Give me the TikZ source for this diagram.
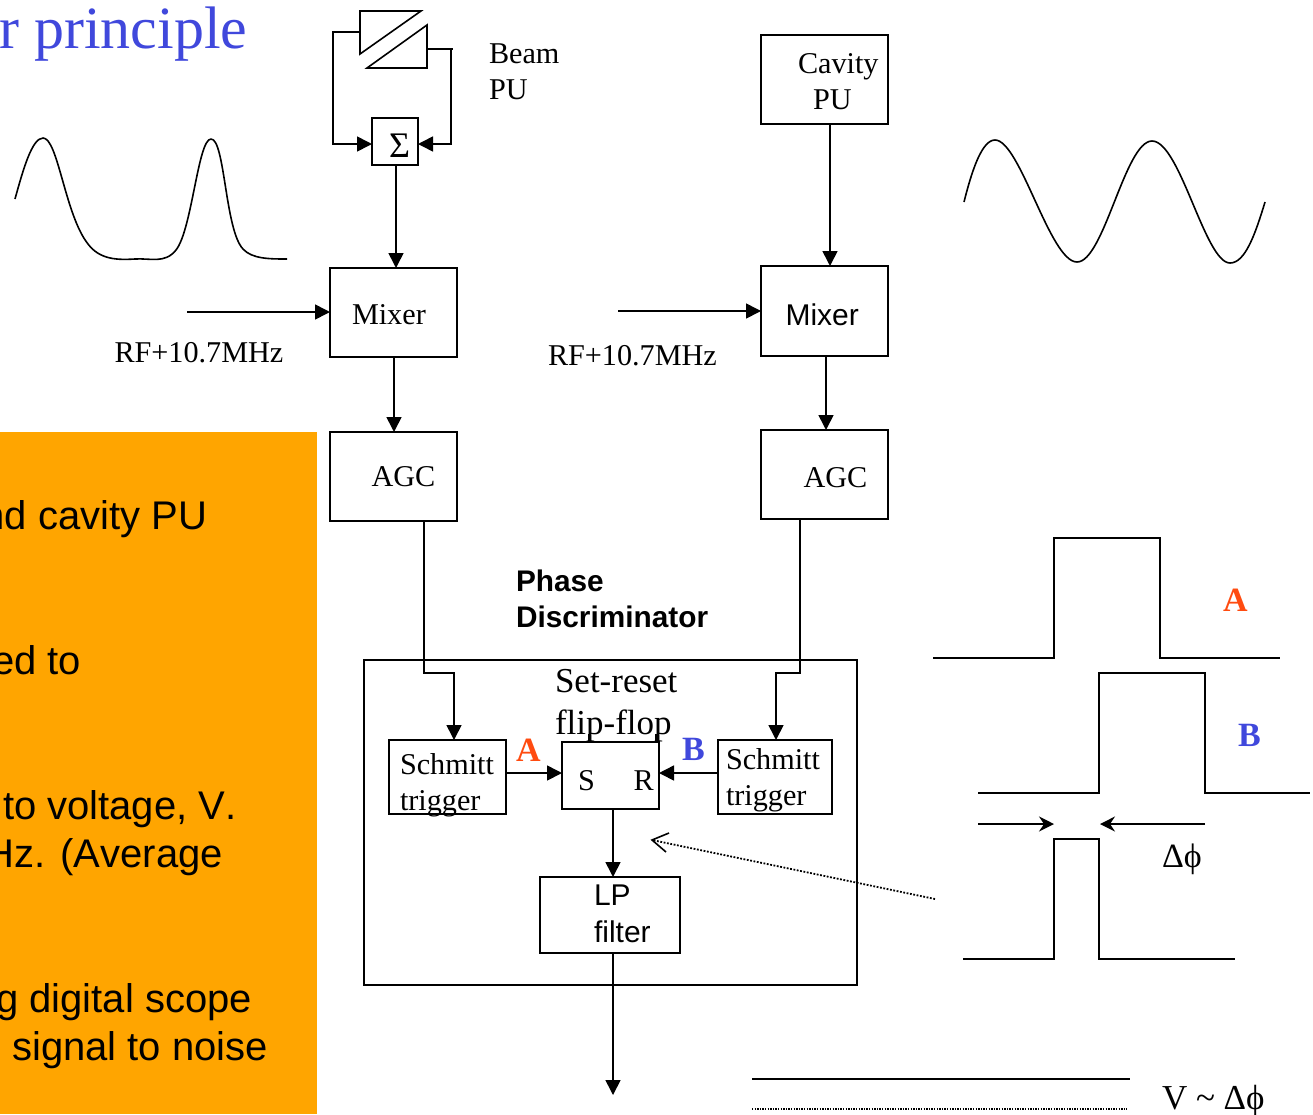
\documentclass[tikz,border=0pt]{standalone}
\usepackage{fontspec}
\setmainfont{Liberation Serif}
\setsansfont[Kerning=Off]{Liberation Sans}
\usetikzlibrary{arrows.meta}
\definecolor{titleblue}{HTML}{4048DC}
\definecolor{labelorange}{HTML}{FF4B10}
\definecolor{panelorange}{HTML}{FFA500}
\newcommand{\fsz}[1]{\fontsize{#1}{#1}\selectfont}
\tikzset{
  x=1pt,y=-1pt,
  wire/.style={line width=1.6pt,draw=black},
  flow/.style={wire,-{Triangle[length=15pt,width=15pt]}},
  thin arrow/.style={line width=1.6pt,-{Stealth[length=15pt,width=15pt,inset=5pt]}},
  boxn/.style={draw=black,line width=1.6pt,anchor=north west,inner sep=0pt,outer sep=0pt},
  txt/.style={anchor=base west,inner sep=0pt,outer sep=0pt,font=\fsz{30.2}},
  txtr/.style={anchor=base east,inner sep=0pt,outer sep=0pt},
  panel/.style={anchor=base east,inner sep=0pt,outer sep=0pt,font=\sffamily\fsz{40}},
  panell/.style={anchor=base west,inner sep=0pt,outer sep=0pt,font=\sffamily\fsz{40}},
  wave/.style={line width=1.6pt,line join=round},
}
\begin{document}
\begin{tikzpicture}
\useasboundingbox (0,0) rectangle (1313,1114);
\clip (0,0) rectangle (1313,1114);
% orange panel
\fill[panelorange] (0,432) rectangle (317,1114);
\node[txtr,font=\fsz{60},text=titleblue] (title) at (247.5,48) {r principle};
\node[panel] (p1) at (207,529) {nd cavity PU};
\node[panel] (p2) at (81,674) {ed to};
\node[panell] (p3) at (3,819) {to voltage, V.};
\node[panel] (p4) at (223,867) {Hz. (Average};
\node[panel] (p5) at (252,1012) {g digital scope};
\node[panel] (p6) at (268,1060) {signal to noise};
% boxes
\node[boxn,minimum width=46pt,minimum height=47pt] (sum) at (372,118) {};
\node[boxn,minimum width=127pt,minimum height=89pt] (mixA) at (330,268) {};
\node[boxn,minimum width=127pt,minimum height=89pt] (agcA) at (330,432) {};
\node[boxn,minimum width=127pt,minimum height=89pt] (cav) at (761,35) {};
\node[boxn,minimum width=127pt,minimum height=90pt] (mixB) at (761,266) {};
\node[boxn,minimum width=127pt,minimum height=89pt] (agcB) at (761,430) {};
\node[boxn,minimum width=493pt,minimum height=325pt] (pd) at (364,660) {};
\node[boxn,minimum width=117pt,minimum height=74pt] (stA) at (389,740) {};
\node[boxn,minimum width=114pt,minimum height=74pt] (stB) at (718,740) {};
\node[boxn,minimum width=97pt,minimum height=67pt] (sr) at (562,742) {};
\node[boxn,minimum width=140pt,minimum height=76pt] (lp) at (540,877) {};
% labels
\node[txt,font=\fsz{36}] (sumt) at (389,157) {Σ};
\node[txt] (beam) at (489,63) {Beam};
\node[txt] (beampu) at (489,99) {PU};
\node[txt] (cav1) at (798,73) {Cavity};
\node[txt] (cav2) at (813,109) {PU};
\node[txt] (mixAt) at (352,324) {Mixer};
\node[txt,font=\sffamily\fsz{30}] (mixBt) at (785.5,325) {Mixer};
\node[txt] (rf1) at (114.5,362) {RF+10.7MHz};
\node[txt] (rf2) at (548,365) {RF+10.7MHz};
\node[txt] (agcAt) at (371.5,486) {AGC};
\node[txt] (agcBt) at (803.5,487) {AGC};
\node[txt,font=\sffamily\bfseries\fsz{29.8}] (ph1) at (516,591) {Phase};
\node[txt,font=\sffamily\bfseries\fsz{29.8}] (ph2) at (516,627) {Discriminator};
\node[txt,font=\fsz{35}] (sr1) at (555,692) {Set-reset};
\node[txt,font=\fsz{35}] (sr2) at (555,734) {flip-flop};
\node[txt] (stA1) at (400,774) {Schmitt};
\node[txt] (stA2) at (400,810) {trigger};
\node[txt] (stB1) at (726,769) {Schmitt};
\node[txt] (stB2) at (726,805) {trigger};
\node[txt] (S) at (578,790) {S};
\node[txt] (R) at (633.5,790) {R};
\node[txt,font=\sffamily\fsz{30}] (lp1) at (594,905) {LP};
\node[txt,font=\sffamily\fsz{30}] (lp2) at (594,942) {filter};
\node[txt,font=\bfseries\fsz{34},text=labelorange] (la) at (516,761) {A};
\node[txt,font=\bfseries\fsz{34},text=titleblue] (lb) at (682,760) {B};
\node[txt,font=\bfseries\fsz{34},text=labelorange] (pa) at (1223,611) {A};
\node[txt,font=\bfseries\fsz{34},text=titleblue] (pb) at (1238,746) {B};
\node[txt,font=\fsz{34}] (dphi) at (1162,867) {Δϕ};
\node[txt,font=\fsz{35}] (vphi) at (1162,1109) {V \textasciitilde{} Δϕ};
% pickup plates
\draw[wire,line join=miter] (360,11) -- (421,11) -- (360,54) -- cycle;
\draw[wire,line join=miter] (427,25) -- (427,68) -- (367,68) -- cycle;
\coordinate (platel) at (360,32);
\coordinate (plater) at (427,49);
\coordinate (sumlin) at (372,144);
\coordinate (sumrin) at (418,144);
\draw[flow] (platel) -- (333,32) |- (sumlin);
\draw[wire] (plater) -- (453,49);
\draw[flow] (451,49) |- (sumrin);
% connectors
\coordinate (sumout) at (396,165);
\draw[flow] (sumout) -- (sumout |- mixA.north);
\coordinate (mixAout) at (394,357);
\draw[flow] (mixAout) -- (mixAout |- agcA.north);
\coordinate (cavout) at (830,124);
\draw[flow] (cavout) -- (cavout |- mixB.north);
\coordinate (mixBout) at (826,356);
\draw[flow] (mixBout) -- (mixBout |- agcB.north);
\coordinate (rfA) at (187,312);
\coordinate (rfB) at (618,311);
\draw[flow] (rfA) -- (rfA -| mixA.west);
\draw[flow] (rfB) -- (rfB -| mixB.west);
\coordinate (agcAout) at (424,521);
\coordinate (stAin) at (454,740);
\draw[flow] (agcAout) -- (424,673) -- (454,673) -- (stAin);
\coordinate (agcBout) at (800,519);
\coordinate (stBin) at (776,740);
\draw[flow] (agcBout) -- (800,673) -- (776,673) -- (stBin);
\coordinate (aout) at (506,773);
\draw[flow] (aout) -- (aout -| sr.west);
\coordinate (bout) at (718,773);
\draw[flow] (bout) -- (bout -| sr.east);
\coordinate (srout) at (613,809);
\draw[flow] (srout) -- (srout |- lp.north);
\coordinate (lpout) at (613,953);
\coordinate (vout) at (613,1095);
\draw[flow] (lpout) -- (vout);
% flip-flop ticks
\draw[wire] (589,734) -- (589,742);
\draw[wire] (656,734) -- (656,742);
% dotted pointer
\coordinate (ptrs) at (935,899);
\coordinate (ptre) at (652,840);
\draw[line width=1.8pt,dash pattern=on 1.8pt off 1.6pt] (ptrs) -- (ptre);
\draw[line width=1.6pt] (669,833) -- (652,840) -- (666,852);
% waves
\draw[wave] (15,199) .. controls (23,170) and (32,138) .. (43,138)
  .. controls (58,138) and (65,215) .. (88,244)
  .. controls (100,260) and (118,260) .. (135,259)
  .. controls (150,258) and (165,264) .. (176,250)
  .. controls (192,230) and (198,139) .. (211,139)
  .. controls (225,139) and (225,230) .. (243,249)
  .. controls (252,259) and (270,259) .. (287,259);
\draw[wave] (964,202) .. controls (972,170) and (982,140) .. (995,140)
  .. controls (1020,140) and (1050,262) .. (1077,262)
  .. controls (1104,262) and (1125,141) .. (1152,141)
  .. controls (1180,141) and (1205,263) .. (1230,263)
  .. controls (1245,263) and (1255,235) .. (1265,202);
% pulses
\draw[wire] (933,658) -- (1054,658) -- (1054,538) -- (1160,538) -- (1160,658) -- (1280,658);
\draw[wire] (978,793) -- (1099,793) -- (1099,673) -- (1205,673) -- (1205,793) -- (1310,793);
\draw[wire] (963,959) -- (1054,959) -- (1054,839) -- (1099,839) -- (1099,959) -- (1235,959);
\coordinate (dl) at (978,824);
\coordinate (dle) at (1054,824);
\coordinate (dr) at (1205,824);
\coordinate (dre) at (1100,824);
\draw[thin arrow] (dl) -- (dle);
\draw[thin arrow] (dr) -- (dre);
% output lines
\draw[line width=1.8pt] (752,1079) -- (1130,1079);
\draw[line width=1.4pt,dash pattern=on 1.4pt off 1.2pt] (752,1109) -- (1127,1109);
\end{tikzpicture}
\end{document}
